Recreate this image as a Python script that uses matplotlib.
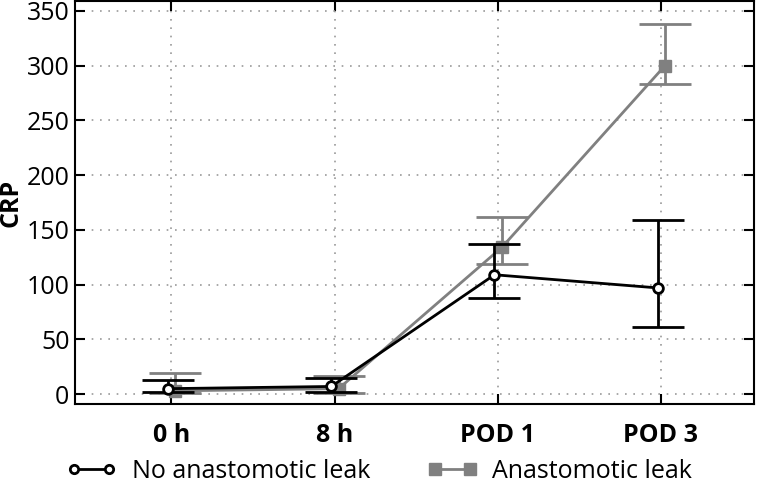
import numpy as np
import matplotlib.pyplot as plt
from matplotlib.lines import Line2D

plt.rcParams['font.family'] = ['Open Sans', 'DejaVu Sans']

timepoints = ['0 h', '8 h', 'POD 1', 'POD 3']

no_leak_mean = [5, 7, 109, 97]
no_leak_low = [2, 2, 88, 61]
no_leak_high = [13, 15, 137, 159]

leak_mean = [3, 5, 134, 300]
leak_low = [1, 1, 119, 283]
leak_high = [19, 17, 162, 338]

x = np.arange(len(timepoints))

fig = plt.figure(figsize=(7.59, 4.84), dpi=100)
ax = fig.add_axes([0.0988, 0.1653, 0.8946, 0.8327])

nl = np.array(no_leak_mean)
ax.errorbar(x - 0.02, nl,
            yerr=[nl - np.array(no_leak_low), np.array(no_leak_high) - nl],
            color='black', lw=2, capsize=19, capthick=2, elinewidth=2,
            marker='o', ms=7, mfc='white', mec='black', mew=2, zorder=3)

lk = np.array(leak_mean)
ax.errorbar(x + 0.025, lk,
            yerr=[lk - np.array(leak_low), np.array(leak_high) - lk],
            color='#808080', lw=2, capsize=19, capthick=2, elinewidth=2,
            marker='s', ms=8.5, mfc='#808080', mec='#808080', zorder=2)

ax.set_xlim(-0.59, 3.57)
ax.set_ylim(-9, 359)
ax.set_xticks(x)
ax.set_xticklabels(timepoints, fontweight='bold', fontsize=18)
ax.set_yticks(np.arange(0, 351, 50))
ax.tick_params(axis='y', labelsize=18, direction='in', length=7, width=1.5,
               right=True, pad=4)
ax.tick_params(axis='x', direction='in', length=7, width=1.5, top=True, pad=14)
ax.set_ylabel('CRP', fontweight='bold', fontsize=18, labelpad=2)
ax.grid(True, linestyle=(0, (1, 4)), color='#999999', lw=1.2)
for s in ax.spines.values():
    s.set_linewidth(1.5)

handles = [
    Line2D([], [], color='black', lw=2, marker='o', ms=6, mfc='white',
           mec='black', mew=2),
    Line2D([], [], color='#808080', lw=2, marker='s', ms=8, mfc='#808080',
           mec='#808080'),
]
fig.legend(handles, ['No anastomotic leak', 'Anastomotic leak'],
           loc='lower left', bbox_to_anchor=(0.058, -0.046), ncol=2,
           frameon=False, fontsize=18, numpoints=2, columnspacing=2.3,
           handlelength=2.0, handletextpad=0.6)

fig.savefig('out.png', dpi=100)
